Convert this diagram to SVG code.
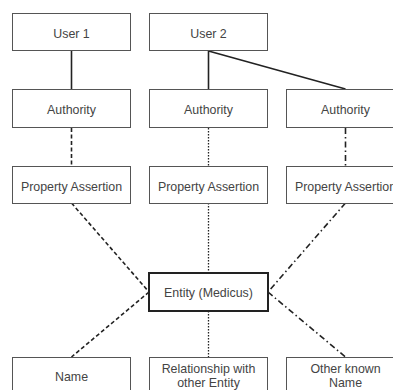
<svg xmlns="http://www.w3.org/2000/svg" width="393" height="390" viewBox="0 0 393 390">
<style>
.box{fill:#fff;stroke:#555;stroke-width:1}
.main{fill:#fff;stroke:#222;stroke-width:2}
text{font-family:"Liberation Sans",Arial,sans-serif;font-size:12.4px;fill:#444;text-anchor:middle}
.c{fill:none;stroke:#222;stroke-width:1.6}
.dash{stroke-dasharray:4 2.5}
.dot{stroke-dasharray:1.5 1.5;stroke-width:1.3}
.dd{stroke-dasharray:6 3 1.5 3}
</style>
<rect width="393" height="390" fill="#fff"/>
<g id="connectors">
<line class="c" x1="71.5" y1="51" x2="71.5" y2="89"/>
<line class="c" x1="208.5" y1="51" x2="208.5" y2="89"/>
<line class="c" x1="208.5" y1="51" x2="345.5" y2="89"/>
<line class="c dash" x1="71.5" y1="128" x2="71.5" y2="166"/>
<line class="c dot" x1="208.5" y1="128" x2="208.5" y2="166"/>
<line class="c dd" x1="345.5" y1="128" x2="345.5" y2="166"/>
<line class="c dash" x1="71.5" y1="203" x2="149" y2="292"/>
<line class="c dot" x1="208.5" y1="203" x2="208.5" y2="273"/>
<line class="c dd" x1="345.5" y1="203" x2="268" y2="292"/>
<line class="c dash" x1="149" y1="292" x2="71.5" y2="357"/>
<line class="c dot" x1="208.5" y1="311" x2="208.5" y2="357"/>
<line class="c dd" x1="268" y1="292" x2="345.5" y2="357"/>
</g>
<g id="user1"><rect class="box" x="12.5" y="13.5" width="118" height="37"/><text x="71.5" y="37.5">User 1</text></g>
<g id="user2"><rect class="box" x="149.5" y="13.5" width="118" height="37"/><text x="208.5" y="37.5">User 2</text></g>
<g id="authority1"><rect class="box" x="12.5" y="89.5" width="118" height="38"/><text x="71.5" y="114">Authority</text></g>
<g id="authority2"><rect class="box" x="149.5" y="89.5" width="118" height="38"/><text x="208.5" y="114">Authority</text></g>
<g id="authority3"><rect class="box" x="286.5" y="89.5" width="118" height="38"/><text x="345.5" y="114">Authority</text></g>
<g id="pa1"><rect class="box" x="12.5" y="166.5" width="118" height="37"/><text x="71.5" y="190.5">Property Assertion</text></g>
<g id="pa2"><rect class="box" x="149.5" y="166.5" width="118" height="37"/><text x="208.5" y="190.5">Property Assertion</text></g>
<g id="pa3"><rect class="box" x="286.5" y="166.5" width="118" height="37"/><text x="345.5" y="190.5">Property Assertion</text></g>
<g id="entity"><rect class="main" x="149" y="273" width="119" height="38"/><text x="208.5" y="297">Entity (Medicus)</text></g>
<g id="name"><rect class="box" x="12.5" y="357.5" width="118" height="40"/><text x="71.5" y="380.5">Name</text></g>
<g id="relationship"><rect class="box" x="149.5" y="357.5" width="118" height="40"/><text x="208.5" y="372.5">Relationship with</text><text x="208.5" y="386.5">other Entity</text></g>
<g id="otherName"><rect class="box" x="286.5" y="357.5" width="118" height="40"/><text x="345.5" y="372.5">Other known</text><text x="345.5" y="386.5">Name</text></g>
</svg>
